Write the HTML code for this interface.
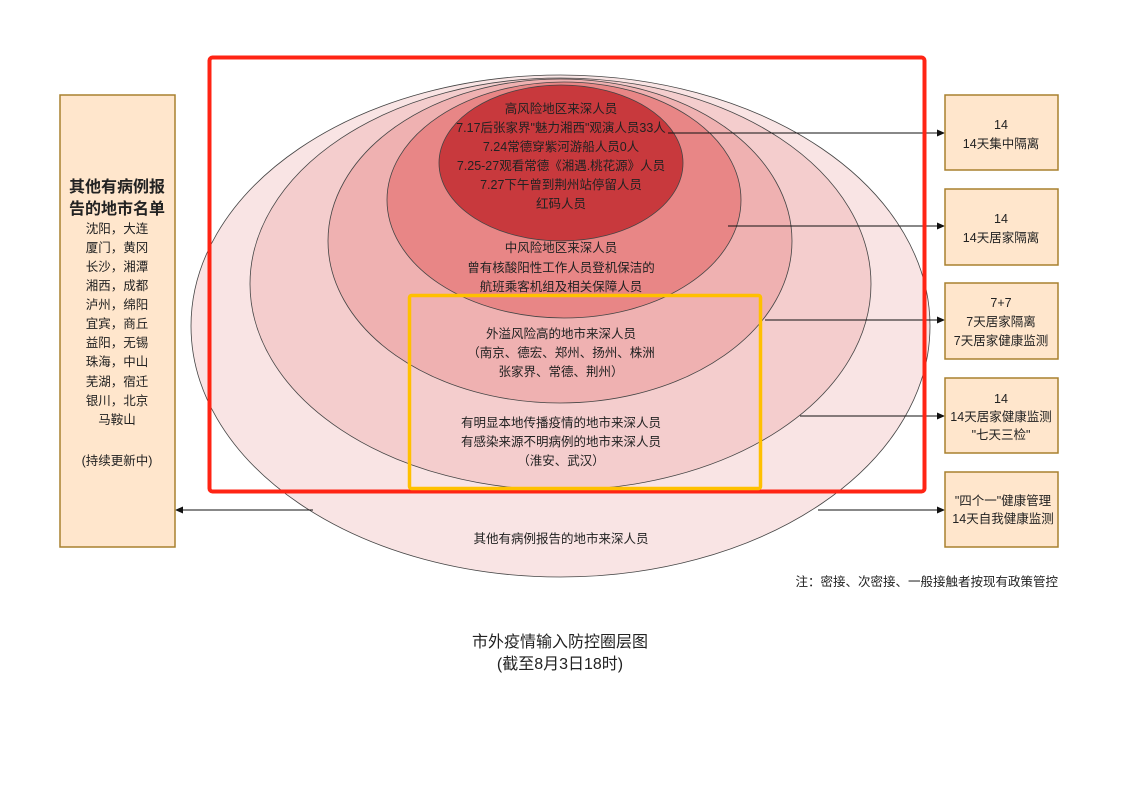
<!DOCTYPE html>
<html><head><meta charset="utf-8"><style>
html,body{margin:0;padding:0;background:#fff;}
svg{display:block;font-family:"Liberation Sans","Noto Sans CJK SC",sans-serif;}
text{fill:#222;}
</style></head><body>
<svg width="1123" height="794" viewBox="0 0 1123 794">
<defs><marker id="a" markerWidth="8" markerHeight="8" refX="7" refY="4" orient="auto" markerUnits="userSpaceOnUse"><path d="M0,0.5 L8,4 L0,7.5Z" fill="#111"/></marker></defs>
<g stroke="#444" stroke-width="0.8">
<ellipse cx="560.5" cy="326" rx="369.5" ry="251" fill="#f9e4e4"/>
<ellipse cx="560.5" cy="284" rx="310.5" ry="206" fill="#f4cdcd"/>
<ellipse cx="560" cy="241" rx="232" ry="162" fill="#efb1b1"/>
<ellipse cx="564" cy="200" rx="177" ry="118" fill="#e88686"/>
<ellipse cx="561" cy="163" rx="122" ry="78" fill="#c8393d"/>
</g>
<g stroke="#111" stroke-width="1" fill="none">
<line x1="668" y1="133" x2="944" y2="133" marker-end="url(#a)"/>
<line x1="728" y1="226" x2="944" y2="226" marker-end="url(#a)"/>
<line x1="765" y1="320" x2="944" y2="320" marker-end="url(#a)"/>
<line x1="800" y1="416" x2="944" y2="416" marker-end="url(#a)"/>
<line x1="818" y1="510" x2="944" y2="510" marker-end="url(#a)"/>
<line x1="313" y1="510" x2="176" y2="510" marker-end="url(#a)"/>
</g>
<rect x="209.5" y="57.5" width="715" height="434" rx="3" fill="none" stroke="#ff2414" stroke-width="4"/>
<rect x="409.5" y="295.5" width="351" height="193" rx="2" fill="none" stroke="#ffc000" stroke-width="3.5"/>
<g fill="#ffe6cc" stroke="#a8802e" stroke-width="1.5">
<rect x="60" y="95" width="115" height="452"/>
<rect x="945" y="95" width="113" height="75"/>
<rect x="945" y="189" width="113" height="76"/>
<rect x="945" y="283" width="113" height="76"/>
<rect x="945" y="378" width="113" height="75"/>
<rect x="945" y="472" width="113" height="75"/>
</g>
<g text-anchor="middle" font-size="12.5">
<text x="561" y="113">高风险地区来深人员</text>
<text x="561" y="132">7.17后张家界"魅力湘西"观演人员33人</text>
<text x="561" y="151">7.24常德穿紫河游船人员0人</text>
<text x="561" y="170">7.25-27观看常德《湘遇.桃花源》人员</text>
<text x="561" y="189">7.27下午曾到荆州站停留人员</text>
<text x="561" y="208">红码人员</text>
<text x="561" y="252">中风险地区来深人员</text>
<text x="561" y="272">曾有核酸阳性工作人员登机保洁的</text>
<text x="561" y="291">航班乘客机组及相关保障人员</text>
<text x="561" y="338">外溢风险高的地市来深人员</text>
<text x="561" y="357">（南京、德宏、郑州、扬州、株洲</text>
<text x="561" y="376">张家界、常德、荆州）</text>
<text x="561" y="427">有明显本地传播疫情的地市来深人员</text>
<text x="561" y="446">有感染来源不明病例的地市来深人员</text>
<text x="561" y="465">（淮安、武汉）</text>
<text x="561" y="543">其他有病例报告的地市来深人员</text>
<text x="1001" y="129">14</text><text x="1001" y="148">14天集中隔离</text>
<text x="1001" y="223">14</text><text x="1001" y="242">14天居家隔离</text>
<text x="1001" y="307">7+7</text><text x="1001" y="326">7天居家隔离</text><text x="1001" y="345">7天居家健康监测</text>
<text x="1001" y="403">14</text><text x="1001" y="421">14天居家健康监测</text><text x="1001" y="439">"七天三检"</text>
<text x="1003" y="505">"四个一"健康管理</text><text x="1003" y="523">14天自我健康监测</text>
<text x="117" y="192" font-size="16" font-weight="bold">其他有病例报</text>
<text x="117" y="214" font-size="16" font-weight="bold">告的地市名单</text>
<text x="117" y="233">沈阳，大连</text>
<text x="117" y="252">厦门，黄冈</text>
<text x="117" y="271">长沙，湘潭</text>
<text x="117" y="290">湘西，成都</text>
<text x="117" y="309">泸州，绵阳</text>
<text x="117" y="328">宜宾，商丘</text>
<text x="117" y="347">益阳，无锡</text>
<text x="117" y="366">珠海，中山</text>
<text x="117" y="386">芜湖，宿迁</text>
<text x="117" y="405">银川，北京</text>
<text x="117" y="424">马鞍山</text>
<text x="117" y="465">(持续更新中)</text>
<text x="1058" y="586" text-anchor="end">注：密接、次密接、一般接触者按现有政策管控</text>
<text x="560" y="647" font-size="16">市外疫情输入防控圈层图</text>
<text x="560" y="669" font-size="16">(截至8月3日18时)</text>
</g>
</svg>
</body></html>
